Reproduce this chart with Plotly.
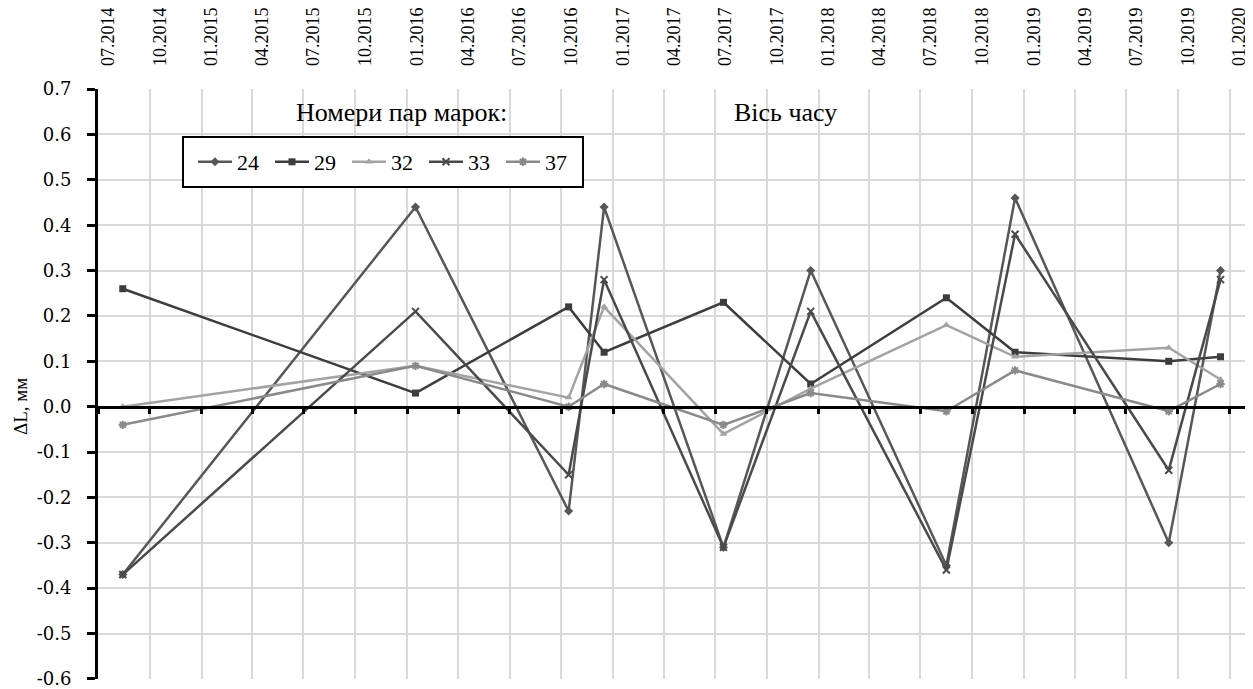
import plotly.graph_objects as go

# ---- data ----
dates = ["2014-08-14", "2016-01-16", "2016-10-14", "2016-12-16", "2017-07-16",
         "2017-12-18", "2018-08-16", "2018-12-16", "2019-09-15", "2019-12-16"]

s24 = [-0.37, 0.44, -0.23, 0.44, -0.31, 0.30, -0.35, 0.46, -0.30, 0.30]
s29 = [0.26, 0.03, 0.22, 0.12, 0.23, 0.05, 0.24, 0.12, 0.10, 0.11]
s32 = [0.00, 0.09, 0.02, 0.22, -0.06, 0.04, 0.18, 0.11, 0.13, 0.06]
s33 = [-0.37, 0.21, -0.15, 0.28, -0.31, 0.21, -0.36, 0.38, -0.14, 0.28]
s37 = [-0.04, 0.09, 0.00, 0.05, -0.04, 0.03, -0.01, 0.08, -0.01, 0.05]

series_names = ["24", "29", "32", "33", "37"]

tick_labels = ["07.2014", "10.2014", "01.2015", "04.2015", "07.2015", "10.2015",
               "01.2016", "04.2016", "07.2016", "10.2016", "01.2017", "04.2017",
               "07.2017", "10.2017", "01.2018", "04.2018", "07.2018", "10.2018",
               "01.2019", "04.2019", "07.2019", "10.2019", "01.2020"]

y_ticks = [0.7, 0.6, 0.5, 0.4, 0.3, 0.2, 0.1, 0.0, -0.1, -0.2, -0.3, -0.4, -0.5, -0.6]
y_tick_labels = ["0.7", "0.6", "0.5", "0.4", "0.3", "0.2", "0.1", "0.0",
                 "-0.1", "-0.2", "-0.3", "-0.4", "-0.5", "-0.6"]

y_title = "ΔL, мм"
legend_caption = "Номери пар марок:"
time_caption = "Вісь часу"

# ---- derived ----
tick_vals = [f"{t.split('.')[1]}-{t.split('.')[0]}-01" for t in tick_labels]
x_range = ["2014-07-01", "2020-02-01"]
y_range = [-0.6002, 0.7002]

# page body has an 8px default margin, so the figure is drawn 8px smaller
OFF = 8
W, H = 1253 - OFF, 689 - OFF
ML, MR, MT, MB = 98 - OFF, 6, 89 - OFF, 10
PW, PH = W - ML - MR, H - MT - MB
PLOT_L, PLOT_B = 98, 679  # in viewport pixels


def px_x(p):
    return (p - PLOT_L) / PW


def px_y(p):
    return (PLOT_B - p) / PH


styles = {
    "24": dict(color="#575757", symbol="diamond", size=7, lw=0),
    "29": dict(color="#3d3d3d", symbol="square", size=7, lw=0),
    "32": dict(color="#a3a3a3", symbol="triangle-up", size=7, lw=0),
    "33": dict(color="#4a4a4a", symbol="x-thin-open", size=7, lw=2),
    "37": dict(color="#8a8a8a", symbol="asterisk-open", size=7, lw=2),
}
values = {"24": s24, "29": s29, "32": s32, "33": s33, "37": s37}

SERIF = "Liberation Serif, Times New Roman, serif"
YFONT = "DejaVu Serif, serif"

fig = go.Figure()
for name in series_names:
    st = styles[name]
    fig.add_trace(go.Scatter(
        x=dates, y=values[name], name=name, mode="lines+markers",
        line=dict(color=st["color"], width=2.5),
        marker=dict(symbol=st["symbol"], size=st["size"], color=st["color"],
                    line=dict(color=st["color"], width=st["lw"])),
    ))

# helper trace so the zero-line axis (x2) is rendered
fig.add_trace(go.Scatter(x=x_range, y=[0, 0], xaxis="x2", mode="lines",
                         line=dict(width=0), showlegend=False, hoverinfo="skip"))

fig.update_layout(
    width=W, height=H,
    margin=dict(l=ML, r=MR, t=MT, b=MB),
    plot_bgcolor="white", paper_bgcolor="white",
    font=dict(family=SERIF, color="black"),
    xaxis=dict(
        type="date", range=x_range, side="top", automargin=False,
        tickmode="array", tickvals=tick_vals, ticktext=tick_labels,
        tickangle=-90, ticks="", showline=False, zeroline=False,
        showgrid=True, gridcolor="#d9d9d9", gridwidth=1.5,
        tickfont=dict(family=SERIF, size=18, color="black"),
        ticklabelstandoff=22, ticklabelshift=10,
    ),
    xaxis2=dict(
        type="date", range=x_range, overlaying="x", anchor="free", automargin=False,
        position=(0 - y_range[0]) / (y_range[1] - y_range[0]), side="bottom",
        tickmode="array", tickvals=tick_vals,
        showline=True, linecolor="black", linewidth=3,
        ticks="outside", ticklen=5, tickwidth=3, tickcolor="black",
        showticklabels=False, showgrid=False, zeroline=False,
    ),
    yaxis=dict(
        range=y_range, tickmode="array", tickvals=y_ticks, ticktext=y_tick_labels,
        automargin=False, ticklabeloverflow="allow",
        showline=True, linecolor="black", linewidth=3,
        ticks="outside", ticklen=8, tickwidth=3, tickcolor="black",
        showgrid=True, gridcolor="#d9d9d9", gridwidth=1.5, zeroline=False,
        tickfont=dict(family=YFONT, size=18, color="black"),
        ticklabelstandoff=12,
    ),
    legend=dict(
        orientation="h", x=px_x(193), y=px_y(162), xanchor="left", yanchor="middle",
        borderwidth=0, bgcolor="rgba(0,0,0,0)",
        font=dict(family=SERIF, size=22, color="black"),
        itemwidth=34, entrywidth=28, entrywidthmode="pixels",
    ),
    shapes=[
        dict(type="rect", xref="paper", yref="paper",
             x0=px_x(183), x1=px_x(583), y0=px_y(187), y1=px_y(137),
             line=dict(color="black", width=2), fillcolor="white", layer="above"),
    ],
    annotations=[
        dict(text=legend_caption, xref="paper", yref="paper", x=px_x(401), y=px_y(112),
             xanchor="center", yanchor="middle", showarrow=False,
             font=dict(family=SERIF, size=26, color="black")),
        dict(text=time_caption, xref="paper", yref="paper", x=px_x(785), y=px_y(112),
             xanchor="center", yanchor="middle", showarrow=False,
             font=dict(family=SERIF, size=26, color="black")),
        dict(text=y_title, xref="paper", yref="paper", x=px_x(21), y=px_y(407),
             xanchor="center", yanchor="middle", textangle=-90, showarrow=False,
             font=dict(family=SERIF, size=19, color="black")),
    ],
)

fig.write_html("out.html")
